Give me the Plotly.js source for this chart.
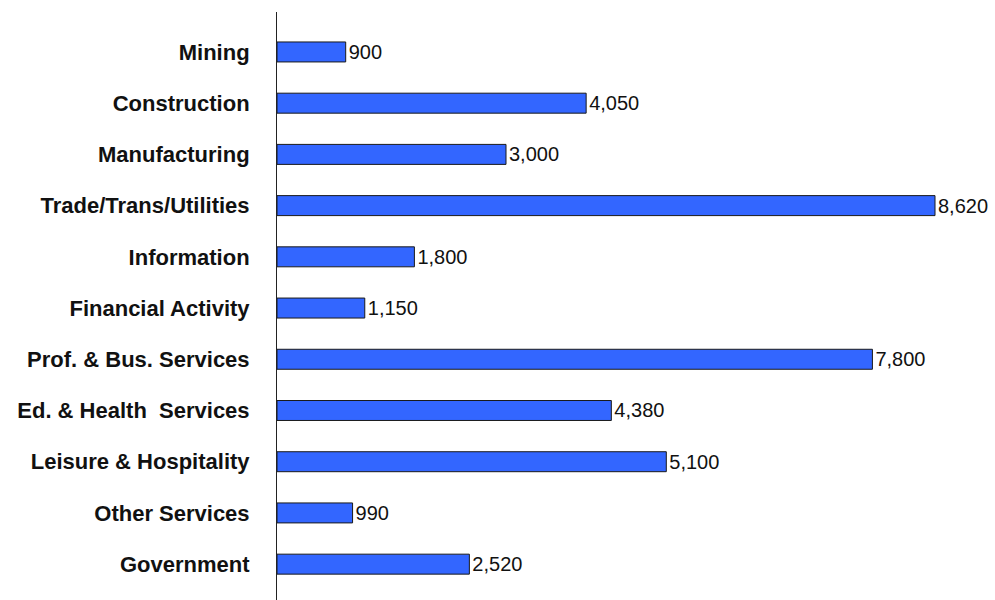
<!DOCTYPE html>
<html>
<head>
<meta charset="utf-8">
<script src="https://cdn.plot.ly/plotly-3.0.1.min.js"></script>
<style>html,body{margin:0;padding:0;background:#fff;}#chart{width:995px;height:600px;}</style>
</head>
<body>
<div id="chart"></div>
<script>
var categories = ["Mining", "Construction", "Manufacturing", "Trade/Trans/Utilities", "Information",
  "Financial Activity", "Prof. & Bus. Services", "Ed. & Health  Services", "Leisure & Hospitality",
  "Other Services", "Government"];
var jobs = [900, 4050, 3000, 8620, 1800, 1150, 7800, 4380, 5100, 990, 2520];
var labels = ["900", "4,050", "3,000", "8,620", "1,800", "1,150", "7,800", "4,380", "5,100", "990", "2,520"];

var trace = {
  type: "bar",
  orientation: "h",
  y: categories,
  x: jobs,
  text: labels,
  textposition: "outside",
  constraintext: "none",
  cliponaxis: false,
  textfont: {family: "Liberation Sans Narrow, Arial Narrow, Liberation Sans, Arial, sans-serif", size: 20, color: "#111"},
  marker: {color: "#3366FF", line: {color: "#1a1a1a", width: 1}},
  width: 0.39,
  hoverinfo: "none"
};

var layout = {
  width: 995, height: 600,
  margin: {l: 277, r: 0, t: 12, b: 0},
  paper_bgcolor: "#ffffff",
  plot_bgcolor: "#ffffff",
  showlegend: false,
  xaxis: {range: [0, 9406], showgrid: false, zeroline: false, showticklabels: false, ticks: "", showline: false},
  yaxis: {
    type: "category",
    range: [10.7, -0.78],
    showline: true, linecolor: "#222", linewidth: 1,
    showgrid: false, zeroline: false, ticks: "",
    ticklabelstandoff: 22,
    tickfont: {family: "Liberation Sans, Arial, sans-serif", size: 22, color: "#111", weight: "bold"}
  }
};

Plotly.newPlot("chart", [trace], layout, {displayModeBar: false, staticPlot: true});
</script>
</body>
</html>
